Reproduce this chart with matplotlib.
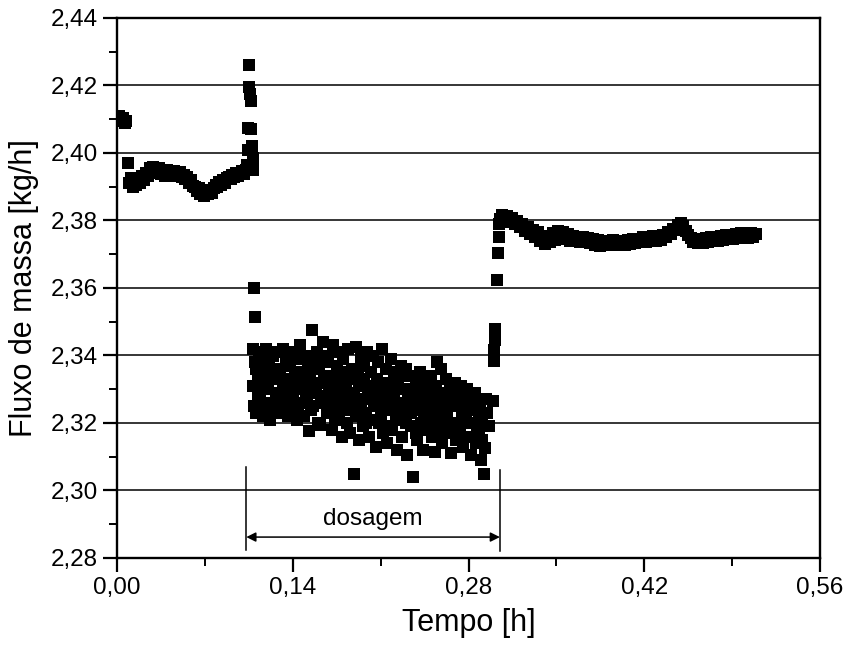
import numpy as np
import matplotlib
matplotlib.use("Agg")
import matplotlib.pyplot as plt
from matplotlib.ticker import MultipleLocator, FuncFormatter

# --- data (time in h, mass flow in kg/h) ---
# before dosing, incl. the spike when the dosing starts
t_before = [0.000, 0.0015, 0.003, 0.0045, 0.006, 0.0075, 0.009,
            0.0095, 0.011, 0.0125, 0.014, 0.0155, 0.017, 0.0185, 0.020, 0.0215, 0.023,
            0.0245, 0.026, 0.0275, 0.029, 0.0305, 0.032, 0.0335, 0.035, 0.0365, 0.038,
            0.0395, 0.041, 0.0425, 0.044, 0.0455, 0.047, 0.0485, 0.050, 0.0515, 0.053,
            0.0545, 0.056, 0.0575, 0.059, 0.0605, 0.062, 0.0635, 0.065, 0.0665, 0.068,
            0.0695, 0.071, 0.0725, 0.074, 0.0755, 0.077, 0.0785, 0.080, 0.0815, 0.083,
            0.0845, 0.086, 0.0875, 0.089, 0.0905, 0.092, 0.0935, 0.095, 0.0965, 0.098,
            0.0995, 0.101, 0.1025,
            0.1035, 0.104, 0.1045, 0.105, 0.1055, 0.106, 0.1065, 0.107, 0.1075, 0.108,
            0.1085, 0.1095, 0.110]
y_before = [2.4100, 2.4110, 2.4095, 2.4105, 2.4090, 2.4095, 2.3970,
            2.3910, 2.3925, 2.3900, 2.3920, 2.3905, 2.3925, 2.3912, 2.3932, 2.3920, 2.3942,
            2.3932, 2.3955, 2.3942, 2.3960, 2.3948, 2.3942, 2.3956, 2.3938, 2.3948, 2.3932,
            2.3950, 2.3938, 2.3948, 2.3932, 2.3946, 2.3938, 2.3932, 2.3945, 2.3928, 2.3935,
            2.3922, 2.3930, 2.3912, 2.3920, 2.3902, 2.3900, 2.3886, 2.3895, 2.3878, 2.3886,
            2.3874, 2.3886, 2.3878, 2.3890, 2.3882, 2.3896, 2.3904, 2.3898, 2.3915, 2.3906,
            2.3920, 2.3912, 2.3926, 2.3930, 2.3922, 2.3936, 2.3928, 2.3940, 2.3932, 2.3942,
            2.3946, 2.3938, 2.3950,
            2.3965, 2.4010, 2.4075, 2.4195, 2.4260, 2.4175, 2.4155, 2.4070, 2.4020, 2.3985,
            2.3950, 2.3600, 2.3515]

# during dosing (main readings)
t_dose = [0.108, 0.109, 0.110, 0.111, 0.112, 0.113, 0.114, 0.115, 0.116, 0.117,
          0.118, 0.119, 0.120, 0.121, 0.122, 0.123, 0.124, 0.125, 0.126, 0.127,
          0.128, 0.129, 0.130, 0.131, 0.132, 0.133, 0.134, 0.135, 0.136, 0.137,
          0.138, 0.139, 0.140, 0.141, 0.142, 0.143, 0.144, 0.145, 0.146, 0.147,
          0.148, 0.149, 0.150, 0.151, 0.152, 0.153, 0.154, 0.155, 0.156, 0.157,
          0.158, 0.159, 0.160, 0.161, 0.162, 0.163, 0.164, 0.165, 0.166, 0.167,
          0.168, 0.169, 0.170, 0.171, 0.172, 0.173, 0.174, 0.175, 0.176, 0.177,
          0.178, 0.179, 0.180, 0.181, 0.182, 0.183, 0.184, 0.185, 0.186, 0.187,
          0.188, 0.189, 0.190, 0.191, 0.192, 0.193, 0.194, 0.195, 0.196, 0.197,
          0.198, 0.199, 0.200, 0.201, 0.202, 0.203, 0.204, 0.205, 0.206, 0.207,
          0.208, 0.209, 0.210, 0.211, 0.212, 0.213, 0.214, 0.215, 0.216, 0.217,
          0.218, 0.219, 0.220, 0.221, 0.222, 0.223, 0.224, 0.225, 0.226, 0.227,
          0.228, 0.229, 0.230, 0.231, 0.232, 0.233, 0.234, 0.235, 0.236, 0.237,
          0.238, 0.239, 0.240, 0.241, 0.242, 0.243, 0.244, 0.245, 0.246, 0.247,
          0.248, 0.249, 0.250, 0.251, 0.252, 0.253, 0.254, 0.255, 0.256, 0.257,
          0.258, 0.259, 0.260, 0.261, 0.262, 0.263, 0.264, 0.265, 0.266, 0.267,
          0.268, 0.269, 0.270, 0.271, 0.272, 0.273, 0.274, 0.275, 0.276, 0.277,
          0.278, 0.279, 0.280, 0.281, 0.282, 0.283, 0.284, 0.285, 0.286, 0.287,
          0.288, 0.289, 0.290, 0.291, 0.292, 0.293, 0.294, 0.295, 0.296]
y_dose = [2.342, 2.325, 2.338, 2.323, 2.334, 2.341, 2.327, 2.336, 2.322, 2.339,
          2.330, 2.342, 2.324, 2.337, 2.321, 2.333, 2.340, 2.326, 2.335, 2.329,
          2.341, 2.323, 2.336, 2.328, 2.342, 2.325, 2.333, 2.339, 2.322, 2.331,
          2.337, 2.327, 2.341, 2.324, 2.334, 2.321, 2.339, 2.330, 2.343, 2.326,
          2.335, 2.322, 2.340, 2.328, 2.337, 2.3175, 2.333, 2.3475, 2.325, 2.338,
          2.329, 2.341, 2.320, 2.336, 2.3195, 2.332, 2.344, 2.326, 2.338, 2.323,
          2.340, 2.327, 2.334, 2.318, 2.343, 2.330, 2.321, 2.337, 2.325, 2.341,
          2.331, 2.316, 2.339, 2.324, 2.335, 2.320, 2.342, 2.328, 2.317, 2.336,
          2.326, 2.305, 2.3425, 2.322, 2.334, 2.315, 2.339, 2.327, 2.319, 2.337,
          2.323, 2.341, 2.329, 2.316, 2.335, 2.321, 2.340, 2.326, 2.313, 2.333,
          2.338, 2.320, 2.330, 2.342, 2.317, 2.327, 2.336, 2.314, 2.332, 2.324,
          2.339, 2.318, 2.329, 2.335, 2.321, 2.312, 2.333, 2.325, 2.337, 2.316,
          2.330, 2.322, 2.336, 2.3105, 2.327, 2.334, 2.319, 2.329, 2.304, 2.324,
          2.332, 2.315, 2.326, 2.335, 2.320, 2.329, 2.312, 2.333, 2.323, 2.318,
          2.330, 2.321, 2.334, 2.316, 2.327, 2.3115, 2.331, 2.338, 2.324, 2.319,
          2.336, 2.314, 2.328, 2.322, 2.333, 2.317, 2.325, 2.330, 2.311, 2.327,
          2.320, 2.332, 2.315, 2.326, 2.329, 2.318, 2.331, 2.323, 2.313, 2.328,
          2.322, 2.330, 2.316, 2.327, 2.3105, 2.325, 2.320, 2.329, 2.314, 2.324,
          2.318, 2.326, 2.309, 2.321, 2.305, 2.3125, 2.327, 2.323, 2.319]

# during dosing (readings in between, filling the cloud)
t_dose_mid = [0.1085, 0.1105, 0.1125, 0.1145, 0.1165, 0.1185, 0.1205, 0.1225, 0.1245, 0.1265,
              0.1285, 0.1305, 0.1325, 0.1345, 0.1365, 0.1385, 0.1405, 0.1425, 0.1445, 0.1465,
              0.1485, 0.1505, 0.1525, 0.1545, 0.1565, 0.1585, 0.1605, 0.1625, 0.1645, 0.1665,
              0.1685, 0.1705, 0.1725, 0.1745, 0.1765, 0.1785, 0.1805, 0.1825, 0.1845, 0.1865,
              0.1885, 0.1905, 0.1925, 0.1945, 0.1965, 0.1985, 0.2005, 0.2025, 0.2045, 0.2065,
              0.2085, 0.2105, 0.2125, 0.2145, 0.2165, 0.2185, 0.2205, 0.2225, 0.2245, 0.2265,
              0.2285, 0.2305, 0.2325, 0.2345, 0.2365, 0.2385, 0.2405, 0.2425, 0.2445, 0.2465,
              0.2485, 0.2505, 0.2525, 0.2545, 0.2565, 0.2585, 0.2605, 0.2625, 0.2645, 0.2665,
              0.2685, 0.2705, 0.2725, 0.2745, 0.2765, 0.2785, 0.2805, 0.2825, 0.2845, 0.2865,
              0.2885, 0.2905]
y_dose_mid = [2.331, 2.336, 2.328, 2.333, 2.326, 2.338, 2.330, 2.324, 2.335, 2.329,
              2.334, 2.327, 2.331, 2.337, 2.325, 2.332, 2.329, 2.335, 2.323, 2.330,
              2.333, 2.327, 2.331, 2.324, 2.336, 2.329, 2.332, 2.326, 2.334, 2.328,
              2.331, 2.325, 2.334, 2.328, 2.322, 2.332, 2.327, 2.330, 2.324, 2.333,
              2.329, 2.323, 2.331, 2.326, 2.333, 2.320, 2.328, 2.331, 2.325, 2.330,
              2.327, 2.322, 2.329, 2.325, 2.331, 2.319, 2.327, 2.323, 2.330, 2.321,
              2.326, 2.320, 2.328, 2.323, 2.330, 2.317, 2.325, 2.328, 2.321, 2.326,
              2.324, 2.319, 2.327, 2.321, 2.329, 2.316, 2.325, 2.322, 2.328, 2.320,
              2.325, 2.318, 2.326, 2.321, 2.328, 2.316, 2.324, 2.320, 2.326, 2.317,
              2.322, 2.315]

# after dosing, incl. the recovery ramp
t_after = [0.2995, 0.3000, 0.3005, 0.3010, 0.3015, 0.3028, 0.3034, 0.3040, 0.3046,
           0.305, 0.307, 0.309, 0.311, 0.313, 0.315, 0.317, 0.319, 0.321, 0.323,
           0.325, 0.327, 0.329, 0.331, 0.333, 0.335, 0.337, 0.339, 0.341, 0.343,
           0.345, 0.347, 0.349, 0.351, 0.353, 0.355, 0.357, 0.359, 0.361, 0.363,
           0.365, 0.367, 0.369, 0.371, 0.373, 0.375, 0.377, 0.379, 0.381, 0.383,
           0.385, 0.387, 0.389, 0.391, 0.393, 0.395, 0.397, 0.399, 0.401, 0.403,
           0.405, 0.407, 0.409, 0.411, 0.413, 0.415, 0.417, 0.419, 0.421, 0.423,
           0.425, 0.427, 0.429, 0.431, 0.433, 0.435, 0.437, 0.439, 0.441, 0.443,
           0.445, 0.447, 0.449, 0.451, 0.453, 0.455, 0.457, 0.459, 0.461, 0.463,
           0.465, 0.467, 0.469, 0.471, 0.473, 0.475, 0.477, 0.479, 0.481, 0.483,
           0.485, 0.487, 0.489, 0.491, 0.493, 0.495, 0.497, 0.499, 0.501, 0.503,
           0.505, 0.507, 0.509]
y_after = [2.3265, 2.3385, 2.3415, 2.3445, 2.3480, 2.3625, 2.3705, 2.3750, 2.3790,
           2.3805, 2.3815, 2.3800, 2.3812, 2.3795, 2.3808, 2.3790, 2.3800, 2.3782, 2.3790,
           2.3770, 2.3780, 2.3760, 2.3772, 2.3752, 2.3765, 2.3740, 2.3755, 2.3730, 2.3748,
           2.3735, 2.3762, 2.3742, 2.3768, 2.3750, 2.3765, 2.3745, 2.3760, 2.3740, 2.3755,
           2.3738, 2.3752, 2.3735, 2.3750, 2.3736, 2.3748, 2.3732, 2.3745, 2.3728, 2.3742,
           2.3725, 2.3738, 2.3726, 2.3740, 2.3728, 2.3742, 2.3730, 2.3740, 2.3726, 2.3738,
           2.3728, 2.3742, 2.3730, 2.3744, 2.3732, 2.3746, 2.3735, 2.3750, 2.3737, 2.3752,
           2.3738, 2.3754, 2.3740, 2.3755, 2.3742, 2.3758, 2.3750, 2.3765, 2.3760, 2.3775,
           2.3772, 2.3788, 2.3793, 2.3785, 2.3770, 2.3758, 2.3748, 2.3735, 2.3742, 2.3732,
           2.3744, 2.3734, 2.3748, 2.3735, 2.3750, 2.3738, 2.3752, 2.3740, 2.3755, 2.3742,
           2.3757, 2.3745, 2.3758, 2.3746, 2.3760, 2.3748, 2.3762, 2.3750, 2.3760, 2.3748,
           2.3762, 2.3752, 2.3760]

# dosing interval marked under the cloud
dose_start, dose_end = 0.103, 0.305
dose_label = "dosagem"


def comma_fmt(v, pos):
    return f"{v:.2f}".replace(".", ",")


plt.rcParams["font.family"] = ["Liberation Sans", "DejaVu Sans"]

fig = plt.figure(figsize=(8.45, 6.48), dpi=100, facecolor="w")
ax = fig.add_axes([117 / 845, 1 - 558 / 648, 703 / 845, 540 / 648])

t_all = np.concatenate([t_before, t_dose, t_dose_mid, t_after])
y_all = np.concatenate([y_before, y_dose, y_dose_mid, y_after])
ax.plot(t_all, y_all, ls="none", marker="s", ms=8.4, color="black",
        markeredgewidth=0, zorder=3)

ax.set_xlim(0, 0.56)
ax.set_ylim(2.28, 2.44)
ax.xaxis.set_major_locator(MultipleLocator(0.14))
ax.xaxis.set_minor_locator(MultipleLocator(0.07))
ax.yaxis.set_major_locator(MultipleLocator(0.02))
ax.yaxis.set_minor_locator(MultipleLocator(0.01))
ax.xaxis.set_major_formatter(FuncFormatter(comma_fmt))
ax.yaxis.set_major_formatter(FuncFormatter(comma_fmt))

ax.grid(axis="y", which="major", color="black", lw=1.1)
ax.set_axisbelow(True)
for sp in ax.spines.values():
    sp.set_linewidth(1.7)

ax.tick_params(which="major", direction="out", length=10, width=1.6,
               labelsize=17.5, pad=4)
ax.tick_params(which="minor", direction="out", length=6, width=1.4)

ax.set_xlabel("Tempo [h]", fontsize=22, labelpad=6)
ax.set_ylabel("Fluxo de massa [kg/h]", fontsize=22, labelpad=8)

# dosing bracket
ax.plot([dose_start, dose_start], [2.2825, 2.307], color="black", lw=1.1)
ax.plot([dose_end, dose_end], [2.282, 2.306], color="black", lw=1.1)
ax.annotate("", xy=(dose_start, 2.2862), xytext=(dose_end, 2.2862),
            arrowprops=dict(arrowstyle="<|-|>", color="black", lw=1.1,
                            mutation_scale=14, shrinkA=0, shrinkB=0))
ax.text((dose_start + dose_end) / 2, 2.2915, dose_label, ha="center",
        va="center", fontsize=17.5)

fig.savefig("out.png", dpi=100)
